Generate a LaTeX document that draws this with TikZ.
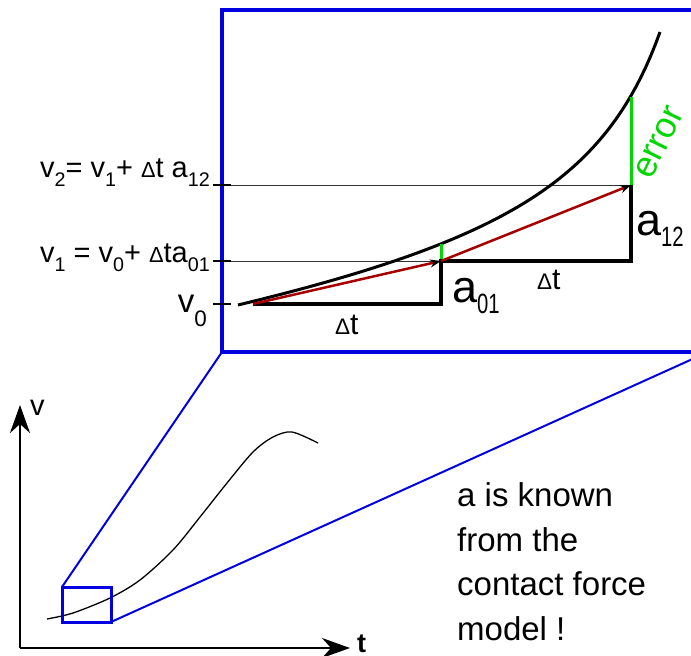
\documentclass[tikz,border=0pt]{standalone}
\usepackage{fontspec}
\setmainfont{Liberation Sans}
\usetikzlibrary{arrows.meta}
\definecolor{zmblue}{RGB}{0,0,225}
\definecolor{errgreen}{RGB}{0,215,0}
\definecolor{stepred}{RGB}{165,0,0}
\newcommand{\ix}[1]{\raisebox{-0.32em}{\scalebox{0.68}{#1}}} %lowered index
\newcommand{\bigix}[1]{\raisebox{-0.25em}{\scalebox{0.45}[0.62]{#1}}} %narrow index for the large a
\newcommand{\dlt}{\scalebox{0.75}{Δ}} %small delta

\begin{document}
\begin{tikzpicture}[x=1pt,y=-1pt, %1 unit = 1 pixel of the sketch, y pointing down
  zoombox/.style={draw=zmblue,line width=4pt},
  zoomline/.style={draw=zmblue,line width=2pt},
  stepline/.style={draw=black,line width=3.5pt,line join=miter},
  guide/.style={draw=black!80,line width=0.9pt},
  tick/.style={draw=black,line width=2pt},
  errline/.style={draw=errgreen,line width=3pt},
  redarrow/.style={draw=stepred,line width=2.5pt,-{Stealth[length=11pt,width=8pt,black]}},
  axis/.style={draw=black,line width=2pt,-{Stealth[length=28pt,width=20pt,inset=9pt]}},
  lbl/.style={inner sep=0pt,font=\fontsize{29}{34}\selectfont}]
\useasboundingbox (0,0) rectangle (691,656);
\clip (0,0) rectangle (691,656); %cuts the large box at the right border

%Small graph with axes
\coordinate (origin) at (20,648);
\coordinate (vtip) at (20,405);
\coordinate (ttip) at (350,648);
\draw[axis] (origin)--(vtip);
\draw[axis] (origin)--(ttip);
\node[lbl,anchor=base west] (vlbl) at (30,415) {v};
\node[lbl,anchor=base west,font=\fontsize{27}{30}\selectfont\bfseries] (tlbl) at (357,652) {t};
\draw[line width=1.3pt] plot[smooth,tension=0.5] coordinates {(47,619) (73,613) (110,598) (140,580) (173,550) (200,517) (227,483) (253,452) (273,437) (292,432) (318,443)}; %velocity curve

%Small box and zoom lines
\coordinate (sbtl) at (62,587);
\coordinate (sbbr) at (111,622);
\coordinate (bbbl) at (222,352);
\coordinate (bbtr) at (708,10);
\coordinate (bbbr) at (708,352);
\draw[zoomline] (sbtl)--(bbbl);
\draw[zoomline] (sbbr)--(bbbr);
\draw[zoombox,line width=3pt] (sbtl) rectangle (sbbr);

%Large box
\draw[zoombox] (bbbl) rectangle (bbtr);

%Points of the explicit integration
\coordinate (p0) at (253,304);
\coordinate (c1) at (441,304);
\coordinate (p1) at (441,261);
\coordinate (c2) at (631,261);
\coordinate (p2) at (631,185);
\coordinate (q1) at (441,244);
\coordinate (q2) at (631,97);
\coordinate (tk0) at (213,304);
\coordinate (tk1) at (213,261);
\coordinate (tk2) at (213,185);

%Guide lines and ticks
\draw[guide] (tk2)--(p2);
\draw[guide] (tk1)--(p1);
\draw[tick] (tk0)--++(18,0);
\draw[tick] (tk1)--++(18,0);
\draw[tick] (tk2)--++(18,0);

%Exact curve (line plus pole term)
\draw[line width=3pt] plot[domain=0:422,samples=90] ({238+\x},{305-(0.1467*\x+254.91/(5.2-\x/100)-49.021)});

%Error bars
\draw[errline] (p1)--(q1);
\draw[errline] (p2)--(q2);

%Steps
\draw[stepline] (p0)--(c1)--(p1)--(c2)--(p2);
\draw[redarrow] (p0)--(p1);
\draw[redarrow] (p1)--(p2);

%Labels
\node[lbl,anchor=base east] (eqtwo) at (210,177) {v\ix{2}= v\ix{1}+ \dlt t a\ix{12}};
\node[lbl,anchor=base east] (eqone) at (210,262) {v\ix{1} = v\ix{0}+ \dlt ta\ix{01}};
\node[lbl,anchor=base east,font=\fontsize{33}{36}\selectfont] (vzero) at (207,312) {v\raisebox{-0.45em}{\scalebox{0.68}{0}}};
\node[lbl,anchor=base west,font=\fontsize{45}{50}\selectfont] (aone) at (452,302) {a\bigix{01}};
\node[lbl,anchor=base west,font=\fontsize{45}{50}\selectfont] (atwo) at (636,235) {a\bigix{12}};
\node[lbl,anchor=base west,font=\fontsize{30}{32}\selectfont] (dtone) at (335,334) {\dlt t};
\node[lbl,anchor=base west,font=\fontsize{30}{32}\selectfont] (dttwo) at (537,289) {\dlt t};
\node[lbl,anchor=base west,rotate=64,text=errgreen,font=\fontsize{36}{40}\selectfont] (errlbl) at (651,181) {error};
\node[lbl,anchor=base west,align=left,font=\fontsize{33}{44.5}\selectfont] (note) at (457,640) {a is known\\from the\\contact force\\model !};
\end{tikzpicture}
\end{document}
